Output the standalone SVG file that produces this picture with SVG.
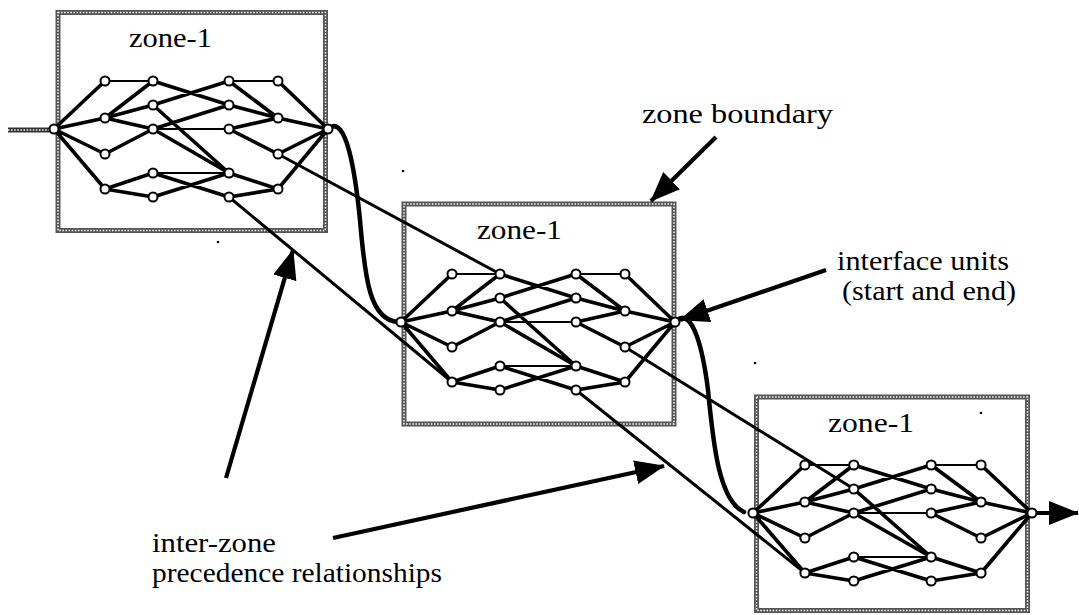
<svg xmlns="http://www.w3.org/2000/svg" xmlns:xlink="http://www.w3.org/1999/xlink" width="1079" height="615" viewBox="0 0 1079 615">
<style>
.bd{fill:none;stroke:#555;stroke-width:5}
.bdi{fill:none;stroke:#fff;stroke-width:1.5;stroke-dasharray:1.5 1.6}
.in{fill:none;stroke:#333;stroke-width:5}
.e{fill:none;stroke:#000;stroke-width:3.6;stroke-linecap:round}
.h{fill:none;stroke:#000;stroke-width:2.2}
.n{fill:#fff;stroke:#000;stroke-width:2}
.iz{fill:none;stroke:#000;stroke-width:3;stroke-linecap:round}
.cv{fill:none;stroke:#000;stroke-width:4.5;stroke-linecap:round}
.ar{fill:none;stroke:#000;stroke-width:4.2}
.t{font-family:"Liberation Serif","Times New Roman",serif;font-size:27px;fill:#000}
</style>
<defs>
<marker id="ah" markerUnits="userSpaceOnUse" markerWidth="32" markerHeight="26" refX="29" refY="12" orient="auto" viewBox="0 0 32 26">
<path d="M0,0 L30,12 L0,24 Z" fill="#000"/>
</marker>
<g id="net">
<path class="e" d="M0,0L51,-48 M0,0L51,-11 M0,0L51,25 M0,0L51,60 M51,-11L99,-48 M51,-11L99,-24 M51,-11L99,0 M51,25L99,0 M51,60L99,44 M51,60L99,68 M99,-48L175,-24 M99,-24L175,-48 M99,-24L175,44 M99,0L175,-24 M99,0L175,44 M99,44L175,68 M99,68L175,44 M175,-48L224,-11 M175,-24L224,-11 M175,0L224,-11 M175,0L224,25 M175,44L224,60 M175,68L224,60 M224,-48L274,0 M224,-11L274,0 M224,25L274,0 M224,60L274,0"/>
<path class="h" d="M51,-48L99,-48 M99,0L175,0 M99,44L175,44 M175,-48L224,-48"/>
<g class="n">
<circle cx="0" cy="0" r="4.5"/>
<circle cx="51" cy="-48" r="4.5"/><circle cx="51" cy="-11" r="4.5"/><circle cx="51" cy="25" r="4.5"/><circle cx="51" cy="60" r="4.5"/>
<circle cx="99" cy="-48" r="4.5"/><circle cx="99" cy="-24" r="4.5"/><circle cx="99" cy="0" r="4.5"/><circle cx="99" cy="44" r="4.5"/><circle cx="99" cy="68" r="4.5"/>
<circle cx="175" cy="-48" r="4.5"/><circle cx="175" cy="-24" r="4.5"/><circle cx="175" cy="0" r="4.5"/><circle cx="175" cy="44" r="4.5"/><circle cx="175" cy="68" r="4.5"/>
<circle cx="224" cy="-48" r="4.5"/><circle cx="224" cy="-11" r="4.5"/><circle cx="224" cy="25" r="4.5"/><circle cx="224" cy="60" r="4.5"/>
<circle cx="274" cy="0" r="4.5"/>
</g>
</g>
</defs>
<rect width="1079" height="615" fill="#fff"/>

<g id="boundaries">
<rect class="bd" x="58" y="12.5" width="267.5" height="218"/>
<rect class="bdi" x="58" y="12.5" width="267.5" height="218"/>
<rect class="bd" x="404" y="204" width="270" height="220"/>
<rect class="bdi" x="404" y="204" width="270" height="220"/>
<rect class="bd" x="756.5" y="397" width="271" height="213.5"/>
<rect class="bdi" x="756.5" y="397" width="271" height="213.5"/>
<line class="in" x1="8" y1="130" x2="52" y2="130"/>
<line class="bdi" x1="8" y1="130" x2="50" y2="130"/>
</g>

<g id="connectors">
<path class="iz" d="M278,154 L500,274"/>
<path class="iz" d="M229,197 L452,382"/>
<path class="iz" d="M625,347 L854,489"/>
<path class="iz" d="M576,390 L805,573"/>
<path class="cv" d="M329,128 C346,115 355,170 360,220 C365,280 370,320 398,322"/>
<path class="cv" d="M677,320 C693,308 703,350 708,390 C713,440 718,500 744,512"/>
<line class="ar" x1="1034" y1="513" x2="1078" y2="513" marker-end="url(#ah)"/>
<line class="ar" x1="716" y1="137" x2="651" y2="201" marker-end="url(#ah)"/>
<line class="ar" x1="826" y1="270" x2="680" y2="320" marker-end="url(#ah)"/>
<line class="ar" x1="226" y1="478" x2="293" y2="250" marker-end="url(#ah)"/>
<line class="ar" x1="333" y1="538" x2="664" y2="466" marker-end="url(#ah)"/>
</g>

<g id="zone1">
<use xlink:href="#net" href="#net" transform="translate(54,129)"/>
<text class="t" x="129" y="47" textLength="83" lengthAdjust="spacingAndGlyphs">zone-1</text>
</g>
<g id="zone2">
<use xlink:href="#net" href="#net" transform="translate(401,322)"/>
<text class="t" x="477" y="239" textLength="85" lengthAdjust="spacingAndGlyphs">zone-1</text>
</g>
<g id="zone3">
<use xlink:href="#net" href="#net" transform="translate(753,513) scale(1.018,1)"/>
<text class="t" x="828" y="432" textLength="86" lengthAdjust="spacingAndGlyphs">zone-1</text>
</g>

<g id="labels">
<text class="t" x="642" y="123" textLength="191" lengthAdjust="spacingAndGlyphs">zone boundary</text>
<text class="t" x="837" y="270" textLength="172" lengthAdjust="spacingAndGlyphs">interface units</text>
<text class="t" x="842" y="300" textLength="174" lengthAdjust="spacingAndGlyphs">(start and end)</text>
<text class="t" x="152" y="552" textLength="124" lengthAdjust="spacingAndGlyphs">inter-zone</text>
<text class="t" x="152" y="582" textLength="290" lengthAdjust="spacingAndGlyphs">precedence relationships</text>
</g>

<g id="specks" fill="#000">
<circle cx="403" cy="171" r="1.3"/>
<circle cx="755" cy="363" r="1.3"/>
<circle cx="981" cy="413" r="1.3"/>
<circle cx="218" cy="242" r="1.3"/>
</g>
</svg>
